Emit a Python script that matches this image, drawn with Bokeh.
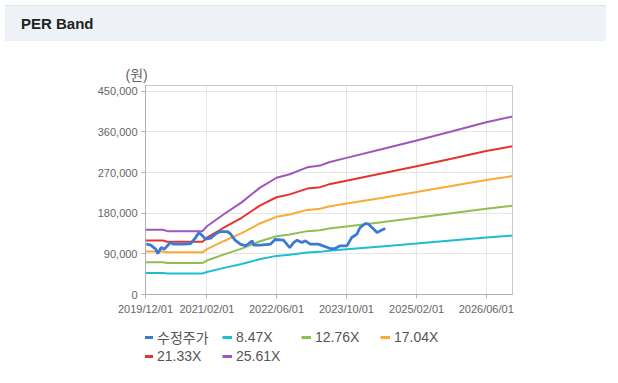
from datetime import datetime
import pandas as pd
from bokeh.plotting import figure
from bokeh.models import (Range1d, FixedTicker, DatetimeTickFormatter, NumeralTickFormatter,
                          Legend, LegendItem, Div, Title)
from bokeh.layouts import column
from bokeh.embed import file_html
from bokeh.resources import INLINE

# ---------------- data ----------------
band_dates = ["2019-12-01", "2020-04-01", "2020-05-01", "2021-01-01", "2021-02-01",
              "2021-06-01", "2021-10-01", "2022-02-01", "2022-06-01", "2022-09-01",
              "2023-01-01", "2023-04-01", "2023-06-01", "2023-10-01", "2024-06-01",
              "2025-02-01", "2025-10-01", "2026-06-01", "2026-12-01"]
eps = [5600, 5600, 5480, 5480, 5900,
       6960, 7970, 9200, 10100, 10400,
       11000, 11150, 11440, 11820, 12560,
       13320, 14100, 14900, 15400]
multiples = [8.47, 12.76, 17.04, 21.33, 25.61]
band_labels = ["8.47X", "12.76X", "17.04X", "21.33X", "25.61X"]

price_dates = ["2019-12-07", "2020-01-04", "2020-02-10", "2020-02-25", "2020-03-20",
               "2020-04-10", "2020-05-01", "2020-05-22", "2020-06-15", "2020-08-25",
               "2020-10-10", "2020-11-12", "2020-12-07", "2021-01-01", "2021-01-22",
               "2021-02-28", "2021-04-01", "2021-05-04", "2021-06-22", "2021-07-13",
               "2021-08-16", "2021-09-22", "2021-10-28", "2021-11-19", "2021-12-13",
               "2021-12-25", "2022-02-10", "2022-04-19", "2022-05-22", "2022-07-19",
               "2022-09-01", "2022-09-28", "2022-10-22", "2022-11-25", "2022-12-19",
               "2023-01-22", "2023-03-19", "2023-06-10", "2023-07-13", "2023-08-19",
               "2023-10-04", "2023-11-07", "2023-12-13", "2024-01-04", "2024-02-10",
               "2024-03-01", "2024-04-07", "2024-05-01", "2024-06-04", "2024-06-28"]
price = [111500, 110000, 100400, 90700, 104000,
         100400, 107800, 115100, 111500, 111500,
         112900, 124900, 137300, 130000, 122700,
         124900, 133800, 139500, 139500, 135100,
         120400, 111500, 107800, 112900, 118900,
         109300, 109300, 111500, 121800, 120400,
         104000, 115100, 120400, 115100, 118900,
         111500, 111500, 101800, 101800, 107800,
         107800, 126200, 133800, 148400, 157300,
         156000, 144900, 137300, 142700, 146200]
price_label = "수정주가"
unit_label = "(원)"

x_tick_dates = ["2019-12-01", "2021-02-01", "2022-06-01", "2023-10-01", "2025-02-01", "2026-06-01"]
y_ticks = [0, 90000, 180000, 270000, 360000, 450000]

# ---------------- styling ----------------
colors = ["#1dbdd2", "#8fbf4f", "#fbaa35", "#e5332f", "#a055bd"]
price_color = "#3a79d6"
FONT = "Liberation Sans"
KFONT = "Liberation Sans, Noto Sans CJK KR"

header = Div(text="PER Band", width=601, height=36,
             styles={"background-color": "#eef2f7", "font-weight": "bold",
                     "font-size": "15px", "font-family": "Liberation Sans, Arial",
                     "color": "#222", "padding-left": "16px", "line-height": "35px",
                     "box-sizing": "border-box", "border-top": "1px solid #dfe4ea"})
footer = Div(text="", width=601, height=1, styles={"background-color": "#e3e3e3"})

bd = pd.to_datetime(band_dates)
pdts = pd.to_datetime(price_dates)
band_values = [[e * m for e in eps] for m in multiples]

p = figure(width=602, height=276, output_backend="svg", toolbar_location=None,
           x_axis_type="datetime",
           x_range=Range1d(datetime(2019, 12, 1), datetime(2026, 12, 1)),
           y_range=Range1d(0, 463000),
           min_border_left=145, min_border_right=90, min_border_top=39, min_border_bottom=28)
p.background_fill_color = "white"
p.border_fill_color = "white"
p.outline_line_color = "#c8c8c8"

p.title = Title(text=unit_label, align="left", offset=-20, standoff=6,
                text_font=KFONT, text_font_size="14px", text_color="#666666",
                text_font_style="normal")

for vals, c in zip(band_values, colors):
    p.line(bd, vals, line_color=c, line_width=2)
p.line(pdts, price, line_color=price_color, line_width=2.8)

p.xaxis.ticker = FixedTicker(ticks=[pd.Timestamp(d).value / 1e6 for d in x_tick_dates])
p.xaxis.formatter = DatetimeTickFormatter(years="%Y/%m/%d", months="%Y/%m/%d", days="%Y/%m/%d",
                                          hours="%Y/%m/%d", minutes="%Y/%m/%d")
p.yaxis.ticker = FixedTicker(ticks=y_ticks)
p.yaxis.formatter = NumeralTickFormatter(format="0,0")

for ax in (p.xaxis[0], p.yaxis[0]):
    ax.axis_line_color = "#b0b0b0"
    ax.major_tick_line_color = "#b0b0b0"
    ax.major_tick_out = 4
    ax.major_tick_in = 0
    ax.minor_tick_line_color = None
    ax.major_label_text_font = FONT
    ax.major_label_text_font_size = "11px"
    ax.major_label_text_color = "#666666"
p.xaxis.major_label_standoff = 4
p.yaxis.major_label_standoff = 4

p.xgrid.ticker = p.xaxis.ticker
p.xgrid.grid_line_color = "#e6e6e6"
p.ygrid.grid_line_color = "#e6e6e6"

# ---- legend drawn in its own strip below the chart (series lie outside its view) ----
q = figure(width=602, height=60, output_backend="svg", toolbar_location=None,
           x_range=Range1d(0, 1), y_range=Range1d(0, 1),
           min_border_left=0, min_border_right=0, min_border_top=0, min_border_bottom=0)
q.axis.visible = False
q.grid.visible = False
q.outline_line_color = None
q.border_fill_color = "white"
q.background_fill_color = "white"

leg_items = []
r = q.line(pdts, price, line_color=price_color, line_width=3)
leg_items.append(LegendItem(label=price_label, renderers=[r]))
for lab, vals, c in zip(band_labels, band_values, colors):
    r = q.line(bd, vals, line_color=c, line_width=3)
    leg_items.append(LegendItem(label=lab, renderers=[r]))

legend = Legend(items=leg_items, location=(-2, 18), orientation="horizontal", ncols=4,
                label_text_font=KFONT, label_text_font_size="14px",
                label_text_color="#555555", glyph_width=10, glyph_height=14,
                label_standoff=4, label_width=64, label_height=14, spacing=1,
                padding=0, margin=0, border_line_color=None, background_fill_alpha=0)
q.add_layout(legend, "center")

layout = column(header, p, q, footer, spacing=0)
open("out.html", "w").write(file_html(layout, INLINE))
